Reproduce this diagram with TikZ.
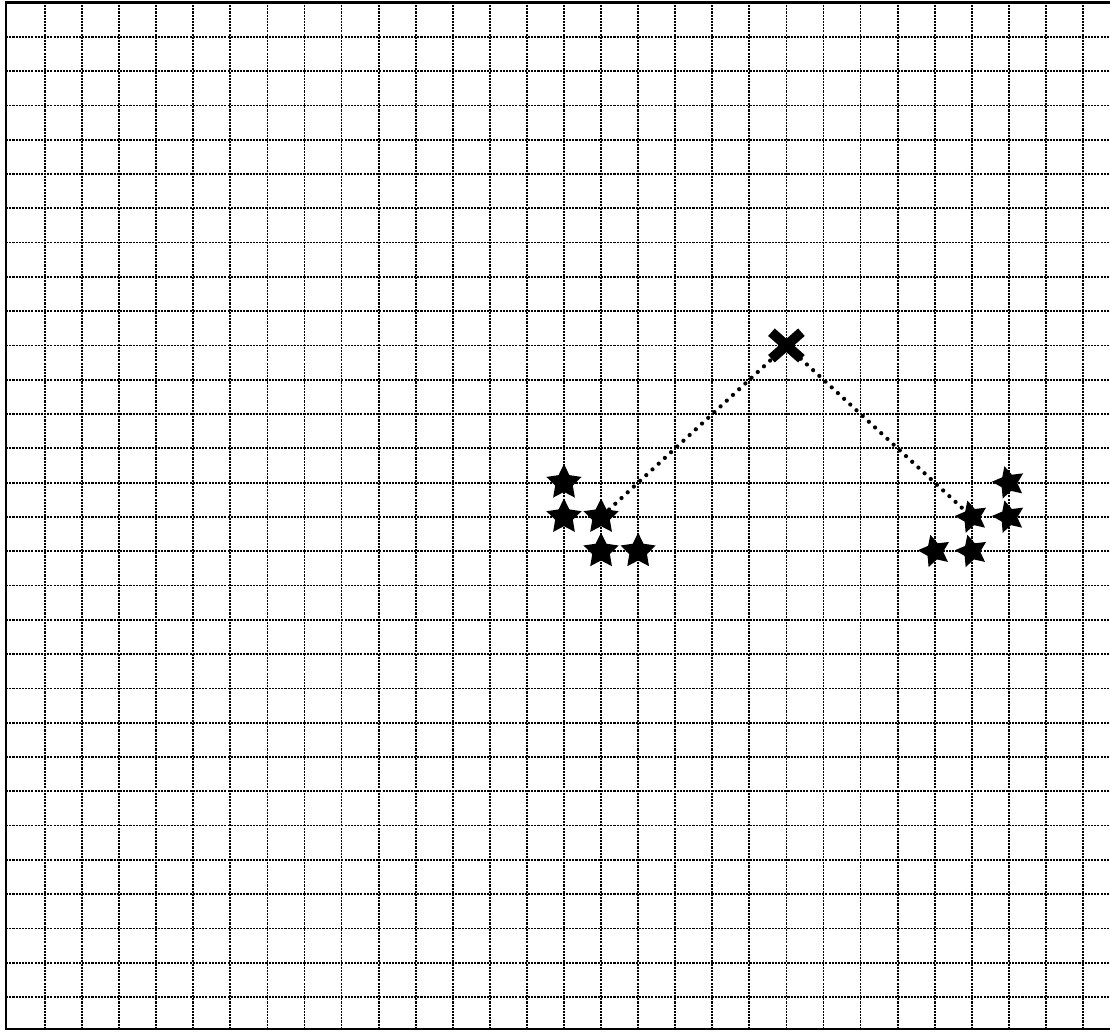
\documentclass[tikz,border=0pt]{standalone}
\usetikzlibrary{shapes.geometric,shapes.misc}

\begin{document}
\begin{tikzpicture}[x=0.7414cm,y=0.6858cm,
    gridline/.style={line width=1pt,dash pattern=on 1.2pt off 0.6pt},
    frameline/.style={line width=1.3pt},
    bigstar/.style={star,star points=5,star point ratio=2.0,fill=black,inner sep=0pt,minimum size=0.74cm},
    tiltstar/.style={bigstar,minimum size=0.68cm,shape border rotate=15},
    apex/.style={cross out,draw=black,line width=0.2cm,minimum width=0.4cm,minimum height=0.33cm,inner sep=0pt},
    track/.style={line width=2.4pt,line cap=round,dash pattern=on 0pt off 4.8pt}]
  \useasboundingbox (-1.214,-0.9915) rectangle (28.729,29.075);
  % grid paper
  \begin{scope}
    \clip (-1.05,-0.93) rectangle (28.729,29.0);
    \foreach \i in {0,...,28}
      \draw[gridline] (\i,-0.93) -- (\i,29.0);
    \foreach \j in {0,...,28}
      \draw[gridline] (-1.05,\j) -- (28.729,\j);
  \end{scope}
  \draw[frameline] (28.729,29.0) -- (-1.05,29.0) -- (-1.05,-0.93) -- (28.729,-0.93);
  % left group
  \node[bigstar] (l1) at (14,15) {};
  \node[bigstar] (l2) at (14,14) {};
  \node[bigstar] (l3) at (15,14) {};
  \node[bigstar] (l4) at (15,13) {};
  \node[bigstar] (l5) at (16,13) {};
  % right group
  \node[tiltstar] (r1) at (26,15) {};
  \node[tiltstar] (r2) at (25,14) {};
  \node[tiltstar] (r3) at (26,14) {};
  \node[tiltstar] (r4) at (24,13) {};
  \node[tiltstar] (r5) at (25,13) {};
  % top mark
  \node[apex] (top) at (20,19) {};
  \draw[track] (l3) -- (top) -- (r2);
\end{tikzpicture}
\end{document}
